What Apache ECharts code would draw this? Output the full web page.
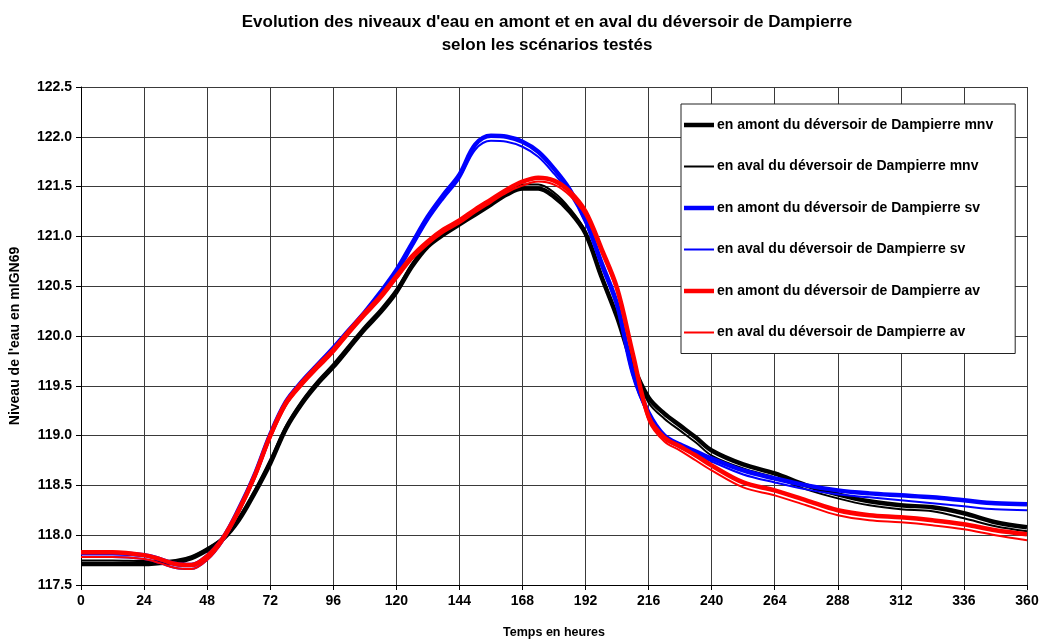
<!DOCTYPE html>
<html>
<head>
<meta charset="utf-8">
<script src="https://cdn.jsdelivr.net/npm/echarts@6/dist/echarts.min.js"></script>
<style>html,body{margin:0;padding:0;background:#fff}#c{width:1040px;height:639px}</style>
</head>
<body>
<div id="c"></div>
<script>
const titleLines = ["Evolution des niveaux d'eau en amont et en aval du déversoir de Dampierre", "selon les scénarios testés"];
const xAxisName = "Temps en heures";
const yAxisName = "Niveau de l'eau en mIGN69";
const seriesNames = [
  "en amont du déversoir de Dampierre mnv",
  "en aval du déversoir de Dampierre mnv",
  "en amont du déversoir de Dampierre sv",
  "en aval du déversoir de Dampierre sv",
  "en amont du déversoir de Dampierre av",
  "en aval du déversoir de Dampierre av"
];
const hours = [0,12,24,30,36,42,48,54,60,66,72,78,84,90,96,102,108,114,120,126,132,138,144,150,156,162,168,174,180,186,192,198,204,210,216,222,228,234,240,252,264,276,288,300,312,324,336,348,360];
const amontMnv = [117.71,117.71,117.71,117.72,117.73,117.77,117.85,117.96,118.15,118.42,118.72,119.07,119.32,119.52,119.69,119.88,120.07,120.24,120.44,120.70,120.90,121.02,121.12,121.22,121.32,121.42,121.48,121.48,121.40,121.25,121.03,120.60,120.19,119.71,119.38,119.22,119.10,118.98,118.85,118.71,118.62,118.50,118.41,118.34,118.30,118.28,118.22,118.13,118.08];
const avalMnv  = [117.745,117.745,117.74,117.74,117.75,117.79,117.87,117.98,118.18,118.45,118.76,119.10,119.35,119.55,119.72,119.91,120.10,120.27,120.47,120.73,120.93,121.05,121.15,121.25,121.35,121.45,121.52,121.52,121.44,121.28,121.05,120.62,120.19,119.69,119.33,119.17,119.05,118.93,118.80,118.67,118.58,118.46,118.37,118.30,118.26,118.24,118.17,118.09,118.04];
const amontSv  = [117.82,117.82,117.80,117.76,117.71,117.70,117.79,117.97,118.26,118.60,119.01,119.34,119.54,119.71,119.88,120.06,120.24,120.44,120.66,120.93,121.20,121.42,121.62,121.92,122.01,122.00,121.95,121.85,121.68,121.47,121.17,120.74,120.32,119.63,119.23,119.00,118.91,118.84,118.77,118.65,118.57,118.50,118.45,118.42,118.40,118.38,118.35,118.32,118.31];
const avalSv   = [117.78,117.78,117.76,117.72,117.67,117.66,117.75,117.94,118.23,118.57,118.98,119.31,119.51,119.68,119.85,120.03,120.21,120.41,120.62,120.89,121.16,121.38,121.58,121.87,121.96,121.95,121.90,121.80,121.63,121.43,121.13,120.70,120.28,119.60,119.20,118.97,118.88,118.81,118.74,118.61,118.53,118.46,118.41,118.38,118.35,118.32,118.29,118.26,118.25];
const amontAv  = [117.83,117.83,117.80,117.76,117.71,117.70,117.79,117.97,118.25,118.59,119.00,119.33,119.53,119.70,119.86,120.05,120.23,120.40,120.60,120.80,120.95,121.07,121.16,121.27,121.37,121.47,121.55,121.59,121.56,121.45,121.25,120.88,120.48,119.82,119.19,118.98,118.89,118.80,118.70,118.53,118.45,118.35,118.25,118.20,118.18,118.15,118.11,118.05,118.01];
const avalAv   = [117.78,117.78,117.76,117.72,117.67,117.66,117.75,117.94,118.22,118.56,118.97,119.30,119.50,119.67,119.83,120.02,120.20,120.37,120.57,120.77,120.92,121.04,121.13,121.24,121.34,121.44,121.51,121.55,121.52,121.41,121.21,120.84,120.44,119.78,119.15,118.94,118.85,118.75,118.65,118.48,118.40,118.30,118.20,118.15,118.13,118.10,118.06,118.00,117.95];

const values = [amontMnv, avalMnv, amontSv, avalSv, amontAv, avalAv];
const colors = ['#000000','#000000','#0000ff','#0000ff','#ff0000','#ff0000'];
const widths = [4.5, 2, 4.5, 2, 4.5, 2];

const chart = echarts.init(document.getElementById('c'), null, {renderer:'canvas'});
const font = 'Liberation Sans, Arial, sans-serif';
chart.setOption({
  animation: false,
  backgroundColor: '#fff',
  title: {
    text: titleLines.join('\n'),
    left: 542, top: 6, textAlign: 'center',
    textStyle: {fontFamily: font, fontWeight: 'bold', fontSize: 17, color: '#000', lineHeight: 23}
  },
  legend: {
    orient: 'vertical',
    left: 681, top: 104,
    padding: [14, 22, 14, 3],
    itemGap: 27.5,
    itemWidth: 30, itemHeight: 14,
    backgroundColor: '#fff',
    borderColor: '#222', borderWidth: 1,
    textStyle: {fontFamily: font, fontWeight: 'bold', fontSize: 14, color: '#000', padding: [0,0,0,-2]},
    data: seriesNames.map((n, i) => ({
      name: n,
      icon: widths[i] > 3 ? 'path://M0,0h30v4.5h-30z' : 'path://M0,0h30v2h-30z',
      itemStyle: {color: colors[i]}
    }))
  },
  grid: {left: 81, top: 87, width: 946, height: 498, containLabel: false, outerBoundsMode: 'none'},
  xAxis: {
    type: 'value', min: 0, max: 360, interval: 24,
    name: xAxisName, nameLocation: 'middle', nameGap: 41,
    nameTextStyle: {fontFamily: font, fontWeight: 'bold', fontSize: 12.5, color: '#000'},
    axisLine: {lineStyle: {color: '#000', width: 1}},
    axisTick: {show: true, length: 5, lineStyle: {color: '#000'}},
    axisLabel: {fontFamily: font, fontWeight: 'bold', fontSize: 14, color: '#000', margin: 9},
    splitLine: {show: true, lineStyle: {color: '#3a3a3a', width: 1}}
  },
  yAxis: {
    type: 'value', min: 117.5, max: 122.5, interval: 0.5,
    name: yAxisName, nameLocation: 'middle', nameGap: 59, nameRotate: 90,
    nameTextStyle: {fontFamily: font, fontWeight: 'bold', fontSize: 14, color: '#000'},
    axisLine: {show: true, lineStyle: {color: '#000', width: 1}},
    axisTick: {show: true, length: 5, lineStyle: {color: '#000'}},
    axisLabel: {fontFamily: font, fontWeight: 'bold', fontSize: 14, color: '#000', margin: 9, formatter: v => v.toFixed(1)},
    splitLine: {show: true, lineStyle: {color: '#3a3a3a', width: 1}}
  },
  series: values.map((arr, i) => ({
    name: seriesNames[i],
    type: 'line',
    data: hours.map((h, k) => [h, arr[k]]),
    smooth: 0.35,
    symbol: 'none',
    color: colors[i],
    lineStyle: {color: colors[i], width: widths[i]}
  }))
});
</script>
</body>
</html>
